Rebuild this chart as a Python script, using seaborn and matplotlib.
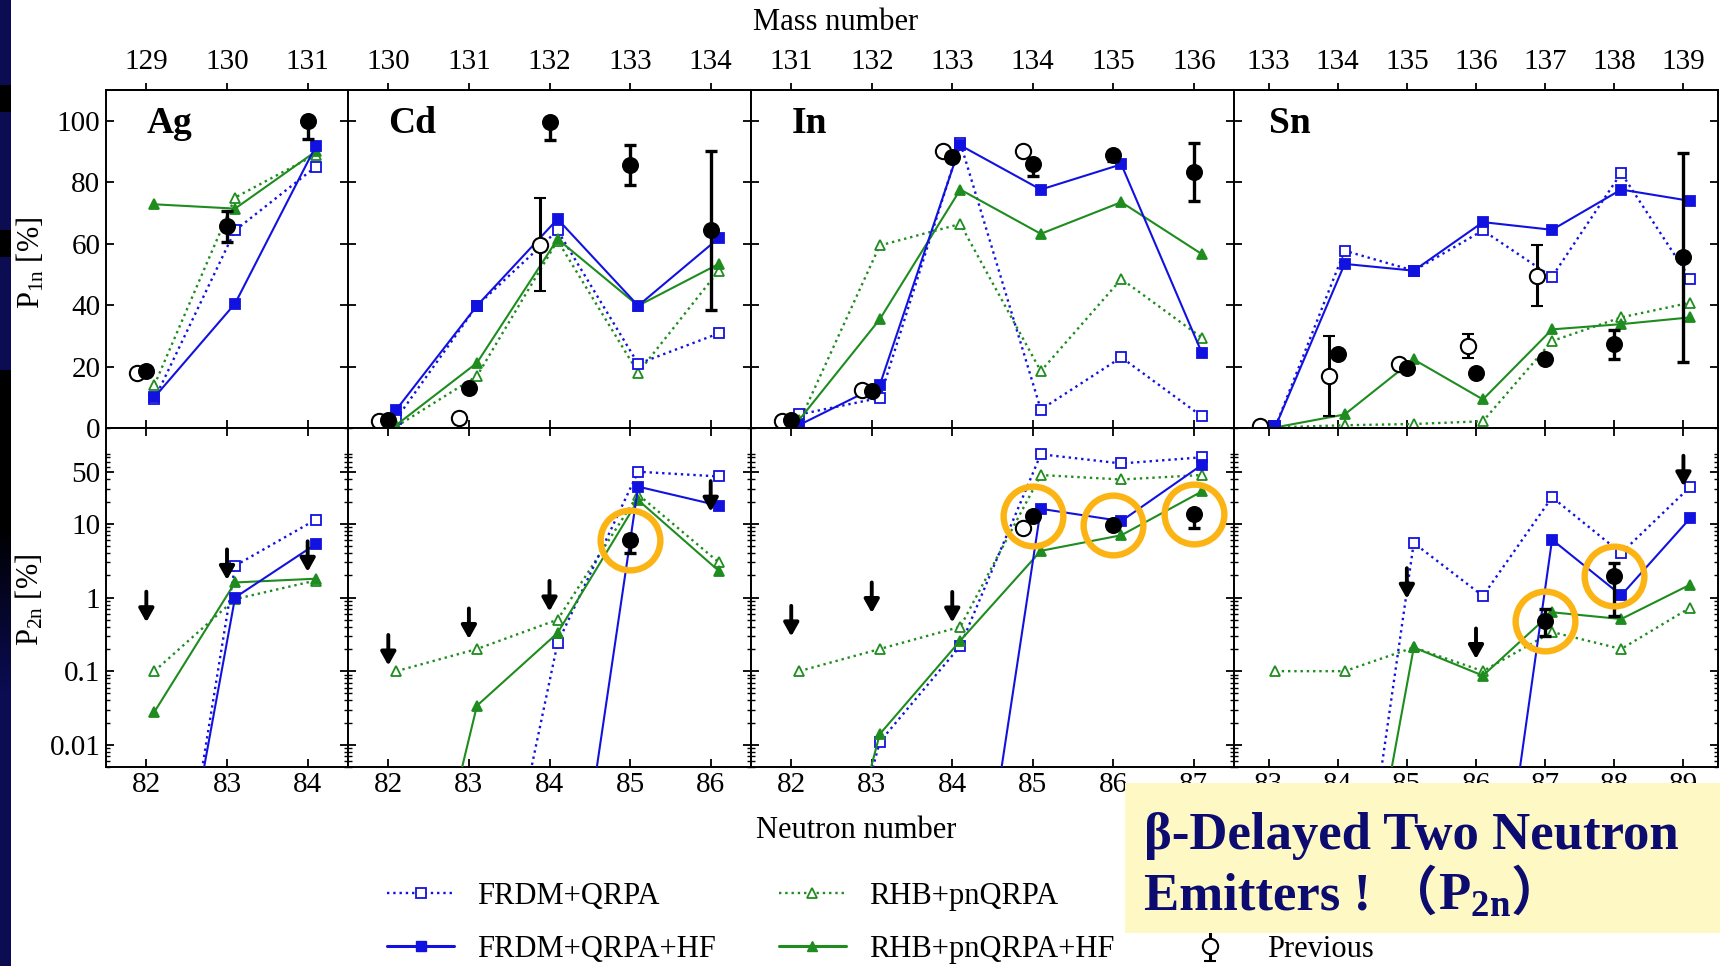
import matplotlib
matplotlib.use("Agg")
import numpy as np
import pandas as pd
import matplotlib.pyplot as plt
import matplotlib.transforms as mtransforms
from matplotlib.lines import Line2D
from matplotlib.patches import Rectangle
from matplotlib.ticker import FixedLocator, FixedFormatter, LogLocator, NullFormatter
import seaborn as sns

# ---------------------------------------------------------------- data
ELEMENTS = ["Ag", "Cd", "In", "Sn"]
PROTONS = [47, 48, 49, 50]

# neutron numbers of each isotopic chain
N_AG = [82, 83, 84]
N_CD = [82, 83, 84, 85, 86]
N_IN = [82, 83, 84, 85, 86, 87]
N_SN = [83, 84, 85, 86, 87, 88, 89]

MODELS = ["FRDM+QRPA", "FRDM+QRPA+HF", "RHB+pnQRPA", "RHB+pnQRPA+HF"]

# P1n [%] model predictions
P1N_FRDM_AG = [9.3, 64.3, 85.0]
P1N_FRDMHF_AG = [10.0, 40.5, 91.7]
P1N_RHB_AG = [14.0, 75.0, 89.0]
P1N_RHBHF_AG = [72.8, 71.4, 90.0]

P1N_FRDM_CD = [3.0, 39.8, 64.3, 20.9, 30.8]
P1N_FRDMHF_CD = [6.0, 39.8, 68.0, 39.8, 61.8]
P1N_RHB_CD = [0.5, 16.9, 61.0, 18.0, 51.2]
P1N_RHBHF_CD = [1.0, 21.2, 61.5, 39.8, 53.4]

P1N_FRDM_IN = [4.4, 9.8, 92.8, 6.0, 23.0, 3.8]
P1N_FRDMHF_IN = [1.0, 14.0, 92.0, 77.6, 85.8, 24.5]
P1N_RHB_IN = [2.0, 59.4, 66.4, 18.5, 48.5, 29.4]
P1N_RHBHF_IN = [2.7, 35.4, 77.6, 63.2, 73.5, 56.6]

P1N_FRDM_SN = [0.5, 57.7, 51.2, 64.3, 49.2, 83.0, 48.5]
P1N_FRDMHF_SN = [0.5, 53.4, 51.2, 67.0, 64.5, 77.6, 73.9]
P1N_RHB_SN = [0.2, 0.9, 1.3, 2.2, 28.3, 36.0, 40.8]
P1N_RHBHF_SN = [0.2, 4.4, 22.3, 9.3, 32.1, 33.8, 36.0]

# P2n [%] model predictions
P2N_FRDM_AG = [5e-7, 2.7, 11.4]
P2N_FRDMHF_AG = [1e-6, 1.0, 5.3]
P2N_RHB_AG = [0.1, 0.95, 1.7]
P2N_RHBHF_AG = [0.028, 1.6, 1.8]

P2N_FRDM_CD = [1e-8, 1.5e-6, 0.24, 51.0, 44.0]
P2N_FRDMHF_CD = [1e-8, 1e-7, 1.2e-6, 32.0, 17.7]
P2N_RHB_CD = [0.1, 0.2, 0.5, 25.0, 3.0]
P2N_RHBHF_CD = [1e-6, 0.034, 0.33, 21.0, 2.3]

P2N_FRDM_IN = [1e-6, 0.011, 0.22, 88.0, 66.0, 80.0]
P2N_FRDMHF_IN = [1e-9, 1e-8, 1e-6, 16.0, 10.9, 63.0]
P2N_RHB_IN = [0.1, 0.2, 0.4, 46.0, 40.0, 46.0]
P2N_RHBHF_IN = [1e-6, 0.014, 0.26, 4.3, 7.0, 27.5]

P2N_FRDM_SN = [1e-8, 1.6e-6, 5.5, 1.05, 23.0, 4.0, 32.0]
P2N_FRDMHF_SN = [1e-9, 1e-8, 1e-7, 1.3e-6, 6.1, 1.07, 12.0]
P2N_RHB_SN = [0.1, 0.1, 0.21, 0.1, 0.34, 0.2, 0.73]
P2N_RHBHF_SN = [1e-8, 1.6e-6, 0.21, 0.087, 0.63, 0.51, 1.5]

# new P1n measurements: N, value, lower / upper error
EXP1_N_AG, EXP1_AG, EXP1_LO_AG, EXP1_HI_AG = [82, 83, 84], [18.5, 65.6, 100.0], [0, 5, 6], [0, 5, 0]
EXP1_N_CD, EXP1_CD, EXP1_LO_CD, EXP1_HI_CD = [82, 83, 84, 85, 86], [2.7, 13.0, 99.7, 85.5, 64.3], [0, 0, 6, 6.5, 26], [0, 0, 0, 6.5, 26]
EXP1_N_IN, EXP1_IN, EXP1_LO_IN, EXP1_HI_IN = [82, 83, 84, 85, 86, 87], [2.7, 12.0, 88.2, 86.0, 88.8, 83.3], [0, 0, 0, 4, 2, 9.3], [0, 0, 0, 0, 0, 9.3]
EXP1_N_SN, EXP1_SN, EXP1_LO_SN, EXP1_HI_SN = [84, 85, 86, 87, 88, 89], [24.0, 19.6, 18.0, 22.3, 27.2, 55.6], [0, 0, 0, 0, 4.6, 34], [0, 0, 0, 0, 4.6, 34]

# earlier P1n measurements
PREV1_N_AG, PREV1_AG, PREV1_ERR_AG = [82], [18.0], [0]
PREV1_N_CD, PREV1_CD, PREV1_ERR_CD = [82, 83, 84], [2.4, 3.3, 59.7], [0, 0, 15]
PREV1_N_IN, PREV1_IN, PREV1_ERR_IN = [82, 83, 84, 85], [2.2, 12.5, 90.0, 90.0], [0, 0, 0, 0]
PREV1_N_SN, PREV1_SN, PREV1_ERR_SN = [83, 84, 85, 86, 87], [0.5, 16.9, 20.7, 26.7, 49.6], [0, 13, 0, 4, 10]

# new P2n measurements
EXP2_N_AG, EXP2_AG, EXP2_LO_AG, EXP2_HI_AG = [], [], [], []
EXP2_N_CD, EXP2_CD, EXP2_LO_CD, EXP2_HI_CD = [85], [6.0], [2.0], [1.0]
EXP2_N_IN, EXP2_IN, EXP2_LO_IN, EXP2_HI_IN = [85, 86, 87], [12.7, 9.5, 13.4], [0, 0, 4.6], [0, 0, 1.5]
EXP2_N_SN, EXP2_SN, EXP2_LO_SN, EXP2_HI_SN = [87, 88], [0.48, 1.96], [0.18, 1.4], [0.22, 1.0]

# earlier P2n measurement
PREV2_N_IN, PREV2_IN = [85], [8.8]

# P2n upper limits
LIM2_N_AG, LIM2_AG = [82, 83, 84], [1.2, 4.5, 5.8]
LIM2_N_CD, LIM2_CD = [82, 83, 84, 86], [0.31, 0.71, 1.68, 38.0]
LIM2_N_IN, LIM2_IN = [82, 83, 84], [0.77, 1.6, 1.19]
LIM2_N_SN, LIM2_SN = [85, 86, 89], [2.5, 0.38, 84.0]

# two-neutron emitters singled out with a ring
RING_N_CD = [85]
RING_N_IN = [85, 86, 87]
RING_N_SN = [87, 88]

# ---------------------------------------------------------------- tables
N_LISTS = [N_AG, N_CD, N_IN, N_SN]
P1N_TABLE = [
    [P1N_FRDM_AG, P1N_FRDMHF_AG, P1N_RHB_AG, P1N_RHBHF_AG],
    [P1N_FRDM_CD, P1N_FRDMHF_CD, P1N_RHB_CD, P1N_RHBHF_CD],
    [P1N_FRDM_IN, P1N_FRDMHF_IN, P1N_RHB_IN, P1N_RHBHF_IN],
    [P1N_FRDM_SN, P1N_FRDMHF_SN, P1N_RHB_SN, P1N_RHBHF_SN],
]
P2N_TABLE = [
    [P2N_FRDM_AG, P2N_FRDMHF_AG, P2N_RHB_AG, P2N_RHBHF_AG],
    [P2N_FRDM_CD, P2N_FRDMHF_CD, P2N_RHB_CD, P2N_RHBHF_CD],
    [P2N_FRDM_IN, P2N_FRDMHF_IN, P2N_RHB_IN, P2N_RHBHF_IN],
    [P2N_FRDM_SN, P2N_FRDMHF_SN, P2N_RHB_SN, P2N_RHBHF_SN],
]
EXP1 = [(EXP1_N_AG, EXP1_AG, EXP1_LO_AG, EXP1_HI_AG), (EXP1_N_CD, EXP1_CD, EXP1_LO_CD, EXP1_HI_CD),
        (EXP1_N_IN, EXP1_IN, EXP1_LO_IN, EXP1_HI_IN), (EXP1_N_SN, EXP1_SN, EXP1_LO_SN, EXP1_HI_SN)]
PREV1 = [(PREV1_N_AG, PREV1_AG, PREV1_ERR_AG), (PREV1_N_CD, PREV1_CD, PREV1_ERR_CD),
         (PREV1_N_IN, PREV1_IN, PREV1_ERR_IN), (PREV1_N_SN, PREV1_SN, PREV1_ERR_SN)]
EXP2 = [(EXP2_N_AG, EXP2_AG, EXP2_LO_AG, EXP2_HI_AG), (EXP2_N_CD, EXP2_CD, EXP2_LO_CD, EXP2_HI_CD),
        (EXP2_N_IN, EXP2_IN, EXP2_LO_IN, EXP2_HI_IN), (EXP2_N_SN, EXP2_SN, EXP2_LO_SN, EXP2_HI_SN)]
PREV2 = [([], []), ([], []), (PREV2_N_IN, PREV2_IN), ([], [])]
LIM2 = [(LIM2_N_AG, LIM2_AG), (LIM2_N_CD, LIM2_CD), (LIM2_N_IN, LIM2_IN), (LIM2_N_SN, LIM2_SN)]
RINGS = [[], RING_N_CD, RING_N_IN, RING_N_SN]

THEORY_SHIFT = 0.1
PREV_SHIFT = -0.12

rows = []
for el, Ns, t1, t2 in zip(ELEMENTS, N_LISTS, P1N_TABLE, P2N_TABLE):
    for q, table in (("P1n", t1), ("P2n", t2)):
        for model, vals in zip(MODELS, table):
            for n, v in zip(Ns, vals):
                rows.append(dict(element=el, quantity=q, model=model, N=n, value=v))
theory = pd.DataFrame(rows)
theory["x"] = theory["N"] + THEORY_SHIFT

# ---------------------------------------------------------------- style
BLUE = "#1212E0"
GREEN = "#1E8C1E"
NAVY_TXT = "#0B0B70"
RING = "#FBB413"
STYLE = {
    "FRDM+QRPA": dict(color=BLUE, ls=":", lw=1.7, marker="s", ms=7, mfc="white", z=3),
    "FRDM+QRPA+HF": dict(color=BLUE, ls="-", lw=1.5, marker="s", ms=7.5, mfc=BLUE, z=3.2),
    "RHB+pnQRPA": dict(color=GREEN, ls=":", lw=1.7, marker="^", ms=7.5, mfc="white", z=2.8),
    "RHB+pnQRPA+HF": dict(color=GREEN, ls="-", lw=1.5, marker="^", ms=7.5, mfc=GREEN, z=3.1),
}

W, H = 1720, 966
COL_PX = [(106, 348), (348, 751), (751, 1234), (1234, 1718)]
XLIMS = [(81.5, 84.5), (81.5, 86.5), (81.5, 87.5), (82.5, 89.5)]
ROW_PX = [(90, 428), (428, 767)]

sns.set_theme(style="ticks")
plt.rcParams.update({
    "font.family": ["Liberation Serif", "DejaVu Serif"],
    "mathtext.fontset": "custom",
    "mathtext.rm": "Liberation Serif",
    "mathtext.it": "Liberation Serif:italic",
    "mathtext.bf": "Liberation Serif:bold",
    "axes.linewidth": 1.4,
    "axes.edgecolor": "black",
    "axes.facecolor": "white",
    "text.color": "black",
    "xtick.color": "black",
    "ytick.color": "black",
})

fig = plt.figure(figsize=(W / 100, H / 100), dpi=100)
fig.patch.set_facecolor("white")


def px_rect(x0, x1, y0, y1):
    return [x0 / W, 1 - y1 / H, (x1 - x0) / W, (y1 - y0) / H]


# slide edge strip on the left
strip = np.zeros((H, 1, 3))
navy = np.array([11, 12, 82]) / 255.0
strip[:, 0, :] = navy
for a, b in [(85, 112), (230, 257), (370, 525)]:
    strip[a:b, 0, :] = 0.0
g0, g1 = 525, 690
for yy in range(g0, g1):
    t = (yy - g0) / (g1 - g0)
    strip[yy, 0, :] = navy * t
ax_strip = fig.add_axes([0, 0, 11 / W, 1])
ax_strip.imshow(strip, aspect="auto", interpolation="bilinear")
ax_strip.set_axis_off()

TICK_FS = 21
prev_handle = None

for i, el in enumerate(ELEMENTS):
    x0, x1 = COL_PX[i]
    Ns = N_LISTS[i]
    Z = PROTONS[i]
    for row, q in enumerate(["P1n", "P2n"]):
        ax = fig.add_axes(px_rect(x0, x1, *ROW_PX[row]))
        if q == "P2n":
            ax.set_yscale("log")
        for model in MODELS:
            st = STYLE[model]
            sub = theory[(theory.element == el) & (theory.quantity == q) & (theory.model == model)]
            sns.lineplot(data=sub, x="x", y="value", ax=ax, estimator=None, sort=False,
                         errorbar=None, legend=False, color=st["color"], linestyle=st["ls"],
                         linewidth=st["lw"], marker=st["marker"], markersize=st["ms"],
                         markerfacecolor=st["mfc"], markeredgecolor=st["color"],
                         markeredgewidth=1.3, zorder=st["z"])

        if q == "P1n":
            pn, pv, pe = PREV1[i]
            if pn:
                eb = ax.errorbar(np.array(pn) + PREV_SHIFT, pv, yerr=pe, fmt="o", ms=11,
                                 mfc="white", mec="black", mew=1.5, ecolor="black",
                                 elinewidth=2.2, capsize=4, capthick=2.2, zorder=4)
                if el == "Cd":
                    prev_handle = eb
            en, ev, elo, ehi = EXP1[i]
            ax.errorbar(en, ev, yerr=[elo, ehi], fmt="none", ecolor="black",
                        elinewidth=2.4, capsize=4.5, capthick=2.4, zorder=5)
            sns.scatterplot(x=en, y=ev, ax=ax, color="black", s=150, edgecolor="black",
                            linewidth=0, zorder=6, legend=False)
            ax.set_ylim(0, 110)
            ax.yaxis.set_major_locator(FixedLocator([0, 20, 40, 60, 80, 100]))
            ax.yaxis.set_minor_locator(FixedLocator([]))
            # mass number scale along the top
            sec = ax.secondary_xaxis("top", functions=(lambda n, Z=Z: n + Z,
                                                       lambda a, Z=Z: a - Z))
            sec.set_xticks([n + Z for n in Ns])
            sec.set_xticklabels([str(n + Z) for n in Ns])
            sec.tick_params(direction="out", length=5, width=1.3, labelsize=TICK_FS, pad=6)
            sec.spines["top"].set_linewidth(1.4)
            trans = mtransforms.blended_transform_factory(ax.transData, ax.transAxes)
            ax.text(Ns[0], 0.952, el, transform=trans, ha="left", va="top",
                    fontsize=27, fontweight="bold", zorder=8)
            ax.tick_params(axis="x", labelbottom=False, top=False)
        else:
            pn, pv = PREV2[i]
            if pn:
                ax.errorbar(np.array(pn) + PREV_SHIFT, pv, fmt="o", ms=11, mfc="white",
                            mec="black", mew=1.5, zorder=4)
            en, ev, elo, ehi = EXP2[i]
            if en:
                ax.errorbar(en, ev, yerr=[elo, ehi], fmt="none", ecolor="black",
                            elinewidth=2.4, capsize=4.5, capthick=2.4, zorder=5)
                sns.scatterplot(x=en, y=ev, ax=ax, color="black", s=150, edgecolor="black",
                                linewidth=0, zorder=6, legend=False)
            ln, lv = LIM2[i]
            for n, v in zip(ln, lv):
                ax.annotate("", xy=(n, v), xytext=(0, -22), textcoords="offset points",
                            arrowprops=dict(arrowstyle="<|-,head_length=0.5,head_width=0.28",
                                            color="black", lw=2.8, shrinkA=0, shrinkB=0,
                                            mutation_scale=16), zorder=6)
            for n in RINGS[i]:
                v = ev[en.index(n)]
                ax.plot([n], [v], "o", ms=43, mfc="none", mec=RING, mew=4.6, zorder=7,
                        clip_on=False)
            ax.set_ylim(0.005, 200)
            ax.yaxis.set_major_locator(FixedLocator([0.01, 0.1, 1, 10, 50]))
            ax.yaxis.set_major_formatter(FixedFormatter(["0.01", "0.1", "1", "10", "50"]))
            ax.yaxis.set_minor_locator(LogLocator(base=10, subs=np.arange(2, 10), numticks=30))
            ax.yaxis.set_minor_formatter(NullFormatter())
            ax.tick_params(axis="x", labelbottom=True, top=True, labelsize=TICK_FS, pad=3.5)

        ax.set_xlim(*XLIMS[i])
        ax.xaxis.set_major_locator(FixedLocator(Ns))
        if q == "P2n":
            ax.set_xticklabels([str(n) for n in Ns])
        ax.set_xlabel("")
        ax.set_ylabel("")
        ax.tick_params(axis="both", which="major", direction="in", length=6, width=1.3,
                       left=True, right=True)
        ax.tick_params(axis="y", which="minor", direction="in", length=3, width=1.0,
                       left=True, right=True)
        ax.tick_params(axis="y", labelleft=(i == 0), labelsize=TICK_FS, pad=4)
        for sp in ax.spines.values():
            sp.set_linewidth(1.4)
            sp.set_color("black")

# axis titles
fig.text(31 / W, 1 - 263 / H, "P$_{\\mathrm{1n}}$ [%]", rotation=90, ha="center",
         va="center", fontsize=22)
fig.text(30 / W, 1 - 600 / H, "P$_{\\mathrm{2n}}$ [%]", rotation=90, ha="center",
         va="center", fontsize=22)
fig.text(836 / W, 1 - 22 / H, "Mass number", ha="center", va="center", fontsize=22)
fig.text(856 / W, 1 - 830 / H, "Neutron number", ha="center", va="center", fontsize=22)

# legend
h_frdm = Line2D([], [], color=BLUE, ls=":", lw=1.7, marker="s", ms=7, mfc="white", mec=BLUE, mew=1.3)
h_frdmhf = Line2D([], [], color=BLUE, ls="-", lw=2.2, marker="s", ms=7.5, mfc=BLUE, mec=BLUE)
h_rhb = Line2D([], [], color=GREEN, ls=":", lw=1.7, marker="^", ms=7.5, mfc="white", mec=GREEN, mew=1.3)
h_rhbhf = Line2D([], [], color=GREEN, ls="-", lw=2.2, marker="^", ms=7.5, mfc=GREEN, mec=GREEN)
h_blank = Line2D([], [], alpha=0)
fig.legend([h_frdm, h_frdmhf, h_rhb, h_rhbhf, h_blank, prev_handle],
           ["FRDM+QRPA", "FRDM+QRPA+HF", "RHB+pnQRPA", "RHB+pnQRPA+HF", "", "Previous"],
           ncol=3, loc="upper left", bbox_to_anchor=(387 / W, 1 - 882 / H),
           frameon=False, fontsize=22, handlelength=2.2, handletextpad=0.75,
           columnspacing=2.05, labelspacing=0.78, borderpad=0, borderaxespad=0)

# highlighted note box
fig.add_artist(Rectangle((1125 / W, 1 - 933 / H), (W - 1125) / W, 150 / H,
                         transform=fig.transFigure, facecolor="#FEF8C4",
                         edgecolor="none", zorder=20))
note_kw = dict(fontsize=38, fontweight="bold", color=NAVY_TXT, va="baseline", ha="left", zorder=21)
fig.text(1144 / W, 1 - 849 / H, "β-Delayed Two Neutron", **note_kw)

renderer = fig.canvas.get_renderer()
base_y = 1 - 910 / H
t = fig.text(1144 / W, base_y, "Emitters !", **note_kw)
xr = t.get_window_extent(renderer).x1 + 14
t = fig.text(xr / W, base_y, "（", family=["Noto Sans CJK SC"], **note_kw)
xr = t.get_window_extent(renderer).x1
t = fig.text(xr / W, base_y, "P$_{\\mathbf{2n}}$", **note_kw)
xr = t.get_window_extent(renderer).x1
fig.text(xr / W, base_y, "）", family=["Noto Sans CJK SC"], **note_kw)

fig.savefig("out.png", dpi=100)
